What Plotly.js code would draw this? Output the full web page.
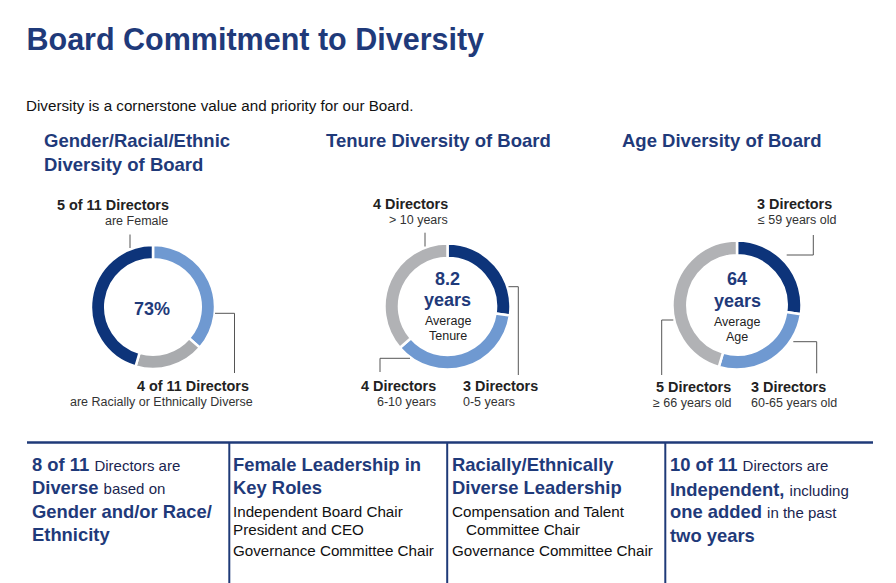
<!DOCTYPE html>
<html>
<head>
<meta charset="utf-8">
<script src="https://cdn.plot.ly/plotly-3.0.1.min.js"></script>
<style>html,body{margin:0;padding:0;background:#fff;}#chart{width:896px;height:583px;}</style>
</head>
<body>
<div id="chart"></div>
<script>
// ---- data ----
const genderLabels = ['Racially or Ethnically Diverse', 'Other', 'Female'];
const genderValues = [4, 2, 5];
const genderCenter = '73%';

const tenureLabels = ['0-5 years', '6-10 years', '> 10 years'];
const tenureValues = [3, 4, 4];
const tenureAverage = '8.2';

const ageLabels = ['≤ 59 years old', '60-65 years old', '≥ 66 years old'];
const ageValues = [3, 3, 5];
const ageAverage = '64';

// ---- styling helpers ----
const W = 896, H = 583;
const FONT = 'Liberation Sans, Arial, Helvetica, sans-serif';
const NAVY = '#1f3a7a';
const DARK = '#0d347a', LIGHT = '#6f99d1';
const px = x => x / W;
const py = y => 1 - y / H;

function pie(labels, values, colors, cx, cy, r) {
  return {
    type: 'pie', labels: labels, values: values, sort: false,
    direction: 'clockwise', rotation: 0, hole: 0.77,
    textinfo: 'none', hoverinfo: 'label+value', showlegend: false,
    marker: {colors: colors, line: {color: '#ffffff', width: 2.5}},
    domain: {x: [px(cx - r), px(cx + r)], y: [py(cy + r), py(cy - r)]}
  };
}

const data = [
  pie(genderLabels, genderValues, [LIGHT, '#a9abae', DARK], 153, 307, 62),
  pie(tenureLabels, tenureValues, [DARK, LIGHT, '#b1b2b5'], 447.5, 306.5, 63),
  pie(ageLabels, ageValues, [DARK, LIGHT, '#b1b2b5'], 737, 305, 64.5)
];

const ann = [];
// text placed by baseline
function T(text, x, base, size, opt) {
  opt = opt || {};
  const anchor = opt.anchor || 'left';
  const dx = anchor === 'left' ? -1.7 : (anchor === 'right' ? 1.7 : 0);
  ann.push({
    text: text, xref: 'paper', yref: 'paper', x: px(x + dx), y: py(base - 0.3 * size + 0.5),
    xanchor: anchor, yanchor: 'middle', showarrow: false,
    align: anchor,
    borderpad: 0,
    font: {family: FONT, size: size, color: opt.color || '#222'}
  });
}
const B = s => '<b>' + s + '</b>';
const DS = 14.4;

T('Diversity is a cornerstone value and priority for our Board.', 27, 109.7, 15.2, {color: '#111'});
T(B('Gender/Racial/Ethnic'), 44.5, 145.8, 18.5, {color: NAVY});
T(B('Diversity of Board'), 44.5, 169.8, 18.5, {color: NAVY});
T(B('Tenure Diversity of Board'), 326.5, 145.8, 18.5, {color: NAVY});
T(B('Age Diversity of Board'), 623, 145.8, 18.5, {color: NAVY});

// donut 1 labels
T(B('5 of ' + genderValues.reduce((a, b) => a + b, 0) + ' Directors'), 168.5, 209, DS, {anchor: 'right'});
T('are Female', 167.5, 224.3, 12.5, {anchor: 'right', color: '#333'});
T(B('4 of 11 Directors'), 248.5, 390.3, DS, {anchor: 'right'});
T('are Racially or Ethnically Diverse', 252, 405.5, 12.5, {anchor: 'right', color: '#333'});
T(B(genderCenter), 152, 314, 18, {anchor: 'center', color: NAVY});

// donut 2 labels
T(B(tenureValues[2] + ' Directors'), 447, 207.8, DS, {anchor: 'right'});
T(tenureLabels[2], 447.3, 223.3, 12.5, {anchor: 'right', color: '#333'});
T(B(tenureValues[1] + ' Directors'), 435.3, 390.3, DS, {anchor: 'right'});
T(tenureLabels[1], 435.3, 405.5, 12.5, {anchor: 'right', color: '#333'});
T(B(tenureValues[0] + ' Directors'), 463.5, 390.3, DS);
T(tenureLabels[0], 463.5, 405.5, 12.5, {color: '#333'});
T(B(tenureAverage), 447.5, 283.8, 18, {anchor: 'center', color: NAVY});
T(B('years'), 447.5, 305.2, 18, {anchor: 'center', color: NAVY});
T('Average', 447.5, 324, 12.5, {anchor: 'center', color: '#222'});
T('Tenure', 447.5, 338.8, 12.5, {anchor: 'center', color: '#222'});

// donut 3 labels
T(B(ageValues[0] + ' Directors'), 757.5, 207.8, DS);
T(ageLabels[0], 758.5, 223.3, 12.5, {color: '#333'});
T(B(ageValues[2] + ' Directors'), 730.3, 391, DS, {anchor: 'right'});
T(ageLabels[2], 730.3, 406.3, 12.5, {anchor: 'right', color: '#333'});
T(B(ageValues[1] + ' Directors'), 752, 391, DS);
T(ageLabels[1], 752, 406.3, 12.5, {color: '#333'});
T(B(ageAverage), 737, 283.8, 18, {anchor: 'center', color: NAVY});
T(B('years'), 737, 305.5, 18, {anchor: 'center', color: NAVY});
T('Average', 737, 325, 12.5, {anchor: 'center', color: '#222'});
T('Age', 737, 339.8, 12.5, {anchor: 'center', color: '#222'});

// bottom cells
const REG = '#1a2550';
const r = s => '<span style="font-size:15px;color:' + REG + '">' + s + '</span>';
const CS = 18.4, RS = 15.2;
T(B('8 of 11') + ' ' + r('Directors are'), 32.5, 470, CS, {color: NAVY});
T(B('Diverse') + ' ' + r('based on'), 32.5, 492.8, CS, {color: NAVY});
T(B('Gender and/or Race/'), 32.5, 516.7, CS, {color: NAVY});
T(B('Ethnicity'), 32.5, 540, CS, {color: NAVY});

T(B('Female Leadership in'), 233.5, 470, CS, {color: NAVY});
T(B('Key Roles'), 233.5, 492.8, CS, {color: NAVY});
T('Independent Board Chair', 233.5, 515.5, RS, {color: '#111'});
T('President and CEO', 233.5, 534, RS, {color: '#111'});
T('Governance Committee Chair', 233.5, 554.3, RS, {color: '#111'});

T(B('Racially/Ethnically'), 452.5, 470, CS, {color: NAVY});
T(B('Diverse Leadership'), 452.5, 492.8, CS, {color: NAVY});
T('Compensation and Talent', 452.5, 515.5, RS, {color: '#111'});
T('Committee Chair', 466.7, 534, RS, {color: '#111'});
T('Governance Committee Chair', 452.5, 554.3, RS, {color: '#111'});

T(B('10 of 11') + ' ' + r('Directors are'), 670.5, 470, CS, {color: NAVY});
T(B('Independent,') + ' ' + r('including'), 670.5, 494.3, CS, {color: NAVY});
T(B('one added') + ' ' + r('in the past'), 670.5, 517, CS, {color: NAVY});
T(B('two years'), 670.5, 541, CS, {color: NAVY});

// leader lines & table lines
const shapes = [];
function L(pts, color, width) {
  let d = 'M' + pts.map(p => px(p[0]) + ',' + py(p[1])).join(' L');
  shapes.push({type: 'path', xref: 'paper', yref: 'paper', path: d,
    line: {color: color, width: width}});
}
const LC = '#555555';
L([[130, 234.5], [130, 248]], LC, 1);
L([[215, 313.3], [234.5, 313.3], [234.5, 373]], LC, 1);
L([[425, 232.7], [425, 246.5]], LC, 1);
L([[410, 358.3], [380, 358.3], [380, 372]], LC, 1);
L([[508.5, 286.7], [518.3, 286.7], [518.3, 375]], LC, 1);
L([[786.7, 255], [813.3, 255], [813.3, 235]], LC, 1);
L([[673.3, 320], [661.7, 320], [661.7, 375]], LC, 1);
L([[793.3, 341.7], [816.7, 341.7], [816.7, 373.3]], LC, 1);

const TL = '#1f3a78';
L([[27, 442.5], [873, 442.5]], TL, 2.5);
L([[229.3, 442.5], [229.3, 583]], TL, 2);
L([[447.2, 442.5], [447.2, 583]], TL, 2);
L([[665.3, 442.5], [665.3, 583]], TL, 2);

const layout = {
  width: W, height: H, margin: {l: 0, r: 0, t: 0, b: 0},
  paper_bgcolor: '#ffffff', plot_bgcolor: '#ffffff',
  font: {family: FONT},
  title: {text: '<b>Board Commitment to Diversity</b>', font: {family: FONT, size: 30.5, color: NAVY},
    xref: 'paper', yref: 'paper', x: px(26.5), xanchor: 'left', y: py(50 - 0.35 * 30.5), yanchor: 'middle'},
  annotations: ann, shapes: shapes, showlegend: false
};
Plotly.newPlot('chart', data, layout, {staticPlot: true, displayModeBar: false});
</script>
</body>
</html>
